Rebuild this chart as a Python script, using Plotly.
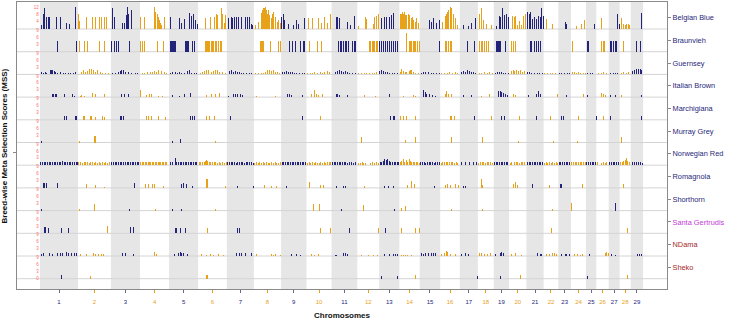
import plotly.graph_objects as go

# ---------------- data ----------------
CHROMOSOMES = list(range(1, 30))
CHR_LEN_MB = [158.3, 137.06, 121.4, 120.66, 121.19, 119.46, 112.6, 113.4, 105.7, 104.3,
              107.3, 91.16, 84.24, 84.65, 85.3, 81.7, 75.16, 66.0, 64.06, 72.04,
              71.6, 61.4, 52.5, 62.7, 42.9, 51.68, 45.4, 46.3, 51.5]

BREEDS = ["Belgian Blue", "Braunvieh", "Guernsey", "Italian Brown", "Marchigiana",
          "Murray Grey", "Norwegian Red", "Romagnola", "Shorthorn", "Santa Gertrudis",
          "NDama", "Sheko"]
BREED_LABEL_COLORS = ["#1f1f7a"] * 9 + ["#c23ad6", "#a52a2a", "#a52a2a"]
ROW_MAX = [12.6] + [9.9] * 11
ROW_TICKS = [[4, 8, 12]] + [[3, 6, 9]] * 10 + [[0, 3, 6, 9]]

# (chromosome, position in Mb, MSS)
BELGIAN_BLUE = [
    (1, 7, 2.2), (1, 12.5, 8.6), (1, 19.4, 11.9), (1, 25, 6.8), (1, 34.7, 6.4), (1, 40, 6.4), (1, 69, 6.4),
    (1, 86, 6.8), (1, 111, 3.5), (1, 122, 2.8), (1, 147, 12.3),
    (2, 1.4, 8.6), (2, 5.6, 4.6), (2, 34.7, 6.8), (2, 59.7, 6.4), (2, 73.6, 6.4), (2, 87.4, 6.4), (2, 98.5, 6.4),
    (2, 109.7, 6.4), (2, 119, 6.4),
    (3, 7.4, 11.9), (3, 12.9, 6.8), (3, 47.6, 3.5), (3, 56, 3.5), (3, 63, 7.7), (3, 67, 12.3), (3, 74, 8.6), (3, 85, 10.5),
    (4, 3.7, 6.4), (4, 20.4, 6.4), (4, 60.6, 12.3), (4, 66, 9.5), (4, 73, 8.6), (4, 77.3, 6.4), (4, 81.5, 5.0),
    (4, 85.6, 3.5), (4, 91, 2.2), (4, 103.7, 6.4),
    (5, 7, 6.8), (5, 41.6, 5.9), (5, 50, 3.1), (5, 64, 5.3), (5, 86, 9.0), (5, 94, 7.2), (5, 103, 8.6), (5, 111, 5.0), (5, 118, 2.8),
    (6, 28.7, 5.9), (6, 49.6, 6.4), (6, 66, 6.8), (6, 74.5, 8.6), (6, 81.5, 7.7), (6, 95.4, 11.9), (6, 101, 8.6),
    (6, 108, 3.1), (6, 114.8, 7.7),
    (7, 6.4, 5.9), (7, 17.5, 6.4), (7, 23, 5.9), (7, 31.4, 6.4), (7, 41, 6.4), (7, 48, 6.4), (7, 62, 6.4), (7, 75.8, 6.8),
    (7, 87.3, 6.8), (7, 92.4, 6.4), (7, 100.8, 2.8), (7, 107.7, 2.2),
    (8, 7.8, 2.2), (8, 18.9, 4.0), (8, 30, 8.6), (8, 33, 9.0), (8, 35.5, 10.5), (8, 39.7, 11.9),
    (8, 43.9, 9.5), (8, 46, 11.5), (8, 48, 12.3), (8, 52.2, 10.5),
    (8, 56.4, 8.6), (8, 60.5, 10.8), (8, 64.7, 7.7), (8, 71.6, 5.9), (8, 77.2, 8.6),
    (8, 82.7, 9.5), (8, 88.3, 6.8), (8, 96.6, 4.0), (8, 103.5, 5.0), (8, 109, 3.1),
    (9, 2.4, 6.8), (9, 9.3, 8.6), (9, 16.2, 5.0), (9, 30, 2.8), (9, 51, 2.2), (9, 64.8, 5.0), (9, 74.5, 2.8), (9, 96.7, 5.9),
    (10, 7.6, 5.9), (10, 24.3, 5.9), (10, 52, 5.9), (10, 63, 3.1), (10, 74, 6.4), (10, 88, 3.1), (10, 98, 8.6),
    (11, 18.7, 6.4), (11, 25.7, 6.8), (11, 32.6, 5.9), (11, 67.3, 4.0), (11, 79.8, 2.2), (11, 93.7, 7.2),
    (12, 7, 1.7), (12, 34.8, 6.4), (12, 40.4, 5.3), (12, 66.8, 2.8), (12, 73.7, 6.8), (12, 82, 7.2), (12, 87.6, 8.3),
    (13, 10.3, 5.9), (13, 21.4, 6.4), (13, 31, 6.8), (13, 42.2, 6.8), (13, 52, 7.7), (13, 58.9, 9.0),
    (14, 5.3, 8.3), (14, 9.4, 8.6), (14, 11.5, 9.5), (14, 13.6, 9.0), (14, 17.8, 8.6),
    (14, 19.8, 9.2), (14, 21.9, 8.3), (14, 26, 7.7), (14, 28.8, 8.0), (14, 31.6, 6.8), (14, 37.2, 8.6),
    (14, 42.8, 7.7), (14, 48.3, 5.9), (14, 53.9, 6.8), (14, 59.4, 5.0), (14, 65, 4.0), (14, 71.9, 5.9), (14, 78.9, 3.1),
    (15, 38.7, 5.0), (15, 49.8, 4.0), (15, 58, 5.9), (15, 70.6, 3.1), (15, 80.4, 5.0),
    (16, 8.9, 4.0), (16, 20, 7.2), (16, 26.9, 8.6), (16, 30.4, 9.5), (16, 33.9, 10.5), (16, 40.8, 11.9),
    (16, 44.2, 12.0), (16, 47.7, 11.4), (16, 54.7, 8.6), (16, 61.6, 5.9), (16, 70, 2.2),
    (17, 14.7, 2.2), (17, 35.5, 1.7), (17, 49.4, 3.1), (17, 63.3, 5.9),
    (18, 6.4, 8.6), (18, 16.1, 11.9), (18, 24.4, 5.0), (18, 36.9, 2.8), (18, 57.7, 2.2),
    (19, 9.6, 1.8), (19, 22, 7.3), (19, 29, 6.4), (19, 36, 11.6), (19, 44.3, 7.9), (19, 54, 8.6), (19, 61, 6.8),
    (20, 13.5, 7.3), (20, 21.8, 6.4), (20, 27.3, 7.3), (20, 35.7, 2.4), (20, 44, 4.6), (20, 52.3, 2.4), (20, 60.7, 7.3),
    (20, 66.2, 8.3),
    (21, 5.3, 9.7), (21, 10.8, 8.3), (21, 16.4, 9.2), (21, 24.7, 5.5), (21, 33, 6.4), (21, 41.4, 5.5), (21, 49.7, 7.3),
    (21, 56.6, 6.4), (21, 63.6, 11.6), (21, 69.1, 7.3),
    (22, 12.8, 5.5), (22, 36.4, 2.8),
    (23, 27.9, 3.7), (23, 34.8, 2.8),
    (24, 24, 1.8), (24, 42, 2.8), (24, 56, 5.0),
    (25, 34.7, 2.6),
    (26, 22.5, 6.0),
    (27, 34.6, 8.6), (27, 44.5, 2.8),
    (28, 8.6, 5.9), (28, 15.5, 2.9), (28, 22.5, 2.2), (28, 29.4, 2.6), (28, 36.4, 2.6), (28, 41.9, 2.2),
    (29, 45.7, 8.8),
]

BRAUNVIEH = [
    (1, 73.6, 4.7), (1, 154, 4.7),
    (2, 5.6, 4.7), (2, 25, 4.7), (2, 40, 4.7), (2, 87.4, 4.7), (2, 110, 4.7),
    (3, 3.2, 4.7), (3, 14.3, 4.7), (3, 24, 4.7), (3, 31, 4.7), (3, 76.7, 4.7),
    (4, 3.7, 4.7), (4, 8, 4.7), (4, 12, 4.7), (4, 17.6, 4.7), (4, 73, 4.7), (4, 96.7, 4.7),
    (5, 4.2, 4.7), (5, 6.2, 4.7), (5, 8.3, 4.7), (5, 10.4, 4.7), (5, 12.5, 4.7), (5, 14.6, 4.7), (5, 16.7, 4.7),
    (5, 18.8, 4.7), (5, 20.8, 4.7), (5, 22.9, 4.7), (5, 25, 4.7), (5, 69.4, 4.7), (5, 71.5, 4.7),
    (5, 73.6, 4.7), (5, 75.6, 4.7), (5, 77.7, 4.7), (5, 79.8, 4.7), (5, 81.9, 4.7), (5, 97, 4.7), (5, 105.5, 4.7),
    (6, 31.5, 4.7), (6, 34.2, 4.7), (6, 37, 4.7), (6, 42.6, 4.7), (6, 45.4, 4.7), (6, 48.2, 4.7), (6, 53.7, 4.7),
    (6, 59.3, 4.7), (6, 62, 4.7), (6, 64.8, 4.7), (6, 70.4, 4.7), (6, 77.3, 4.7), (6, 84.3, 4.7), (6, 91.2, 4.7),
    (6, 98.1, 4.7),
    (8, 25.8, 4.7), (8, 30, 4.7), (8, 35.5, 4.7), (8, 39.7, 4.7), (8, 70.2, 4.7), (8, 102, 4.7), (8, 109, 4.7),
    (9, 32.9, 4.7), (9, 46.8, 4.7), (9, 60.7, 4.7), (9, 82.7, 4.7), (9, 92.6, 4.7), (9, 99.5, 4.7),
    (10, 14.6, 4.7), (10, 46.5, 4.7), (10, 63, 4.7),
    (11, 28.5, 4.7), (11, 35.4, 4.7), (11, 42.3, 4.7), (11, 49.3, 4.7), (11, 56.2, 4.7), (11, 63.2, 4.7),
    (11, 70, 4.7), (11, 86.8, 4.7), (11, 93.7, 4.7), (11, 100.6, 4.7),
    (12, 51.5, 4.7), (12, 54.3, 4.7), (12, 57, 4.7), (12, 62.6, 4.7), (12, 68.2, 4.7), (12, 71, 4.7), (12, 73.7, 4.7),
    (12, 79.3, 4.7), (12, 84.8, 4.7),
    (13, 3.3, 4.7), (13, 11.7, 4.7), (13, 20, 4.7), (13, 28.3, 4.7), (13, 36.6, 4.7), (13, 45, 4.7),
    (13, 53.3, 4.7), (13, 61.6, 4.7), (13, 70, 4.7), (13, 78.3, 4.7),
    (14, 30.3, 8.2), (14, 40, 4.7), (14, 44.2, 4.7), (14, 48.3, 4.7), (14, 56.6, 4.7), (14, 60.8, 4.7), (14, 65, 4.7),
    (14, 73.3, 4.7), (14, 81.6, 4.7),
    (15, 81.8, 4.7),
    (16, 20, 4.7), (16, 26.9, 4.7), (16, 33.9, 4.7), (16, 40.8, 4.7), (16, 47.7, 4.7),
    (17, 32.7, 4.7), (17, 60.5, 4.7),
    (18, 6.4, 4.7), (18, 13.3, 4.7), (18, 20.3, 4.7), (18, 27.2, 4.7), (18, 34.1, 4.7), (18, 43.9, 4.7),
    (19, 12.4, 4.7), (19, 15.1, 4.7), (19, 17.9, 4.7), (19, 20.7, 4.7), (19, 23.5, 4.7), (19, 26.2, 4.7),
    (19, 29, 4.7), (19, 47, 4.7),
    (20, 10.7, 4.7), (20, 19, 4.7), (20, 27.3, 4.7),
    (21, 15, 4.7), (21, 21.9, 4.7), (21, 33, 4.7), (21, 41.4, 4.7), (21, 49.7, 4.7), (21, 58, 4.7),
    (24, 6, 4.7),
    (25, 6.9, 4.7), (25, 9, 4.7), (25, 11.1, 4.7),
    (26, 22.3, 4.7), (26, 29.3, 4.7), (26, 36, 4.7),
    (27, 5.4, 4.7), (27, 12.3, 4.7), (27, 19.2, 4.7), (27, 26.2, 4.7), (27, 33.1, 4.7),
    (28, 15.5, 4.7),
    (29, 24.8, 4.7), (29, 38.7, 4.7),
]

GUERNSEY = [
    (1, 4.2, 0.9), (1, 12.5, 0.6), (1, 20.8, 1.2), (1, 29.1, 0.7), (1, 43, 1.8), (1, 48.6, 2.0), (1, 54.1, 1.8),
    (1, 59.7, 1.5), (1, 65.2, 0.9), (1, 73.6, 0.6), (1, 84.7, 0.9), (1, 95.8, 0.6), (1, 106.9, 0.7), (1, 118, 0.6),
    (1, 129, 0.7), (1, 140, 0.6), (1, 148.5, 0.9),
    (2, 12.5, 1.2), (2, 20.8, 2.0), (2, 29.1, 1.0), (2, 37.5, 1.5), (2, 45.8, 2.2), (2, 54.1, 2.5), (2, 62.5, 2.0),
    (2, 70.8, 1.2), (2, 79.1, 2.0), (2, 93, 1.2), (2, 104, 0.8), (2, 115, 0.8), (2, 126, 0.6),
    (3, 6, 0.8), (3, 17, 0.6), (3, 31, 1.2), (3, 39.3, 1.5), (3, 44.8, 2.0), (3, 53.2, 1.8), (3, 61.5, 1.2),
    (3, 72.6, 1.0), (3, 86.5, 0.7), (3, 100.3, 0.6), (3, 111.5, 0.8),
    (4, 9.3, 0.8), (4, 20.4, 0.7), (4, 31.5, 1.2), (4, 42.6, 1.0), (4, 53.7, 1.2), (4, 62, 1.5), (4, 70.4, 1.0),
    (4, 78.7, 1.8), (4, 89.8, 1.5), (4, 100.9, 1.0), (4, 112, 0.8),
    (5, 4.2, 0.7), (5, 13.9, 0.9), (5, 25, 1.0), (5, 33.3, 0.8), (5, 41.6, 1.2), (5, 52.7, 0.7), (5, 63.8, 0.6),
    (5, 75, 1.5), (5, 83.3, 1.8), (5, 94.4, 0.7), (5, 105.5, 0.8), (5, 113.8, 0.6),
    (6, 7.9, 0.8), (6, 17.6, 1.2), (6, 26, 1.5), (6, 35.7, 2.0), (6, 42.6, 1.8), (6, 53.7, 1.2), (6, 64.8, 1.5),
    (6, 73.2, 2.0), (6, 81.5, 1.8), (6, 89.8, 1.2), (6, 101, 1.0), (6, 112, 0.8),
    (7, 9.2, 1.5), (7, 17.5, 1.8), (7, 25.8, 1.2), (7, 34.1, 1.5), (7, 42.5, 1.2), (7, 50.8, 1.0), (7, 59.1, 0.8),
    (7, 70.2, 0.6), (7, 81.3, 0.7), (7, 92.4, 0.6), (7, 103.5, 0.6),
    (8, 7.8, 0.6), (8, 18.9, 0.8), (8, 30, 0.7), (8, 41, 0.6), (8, 49.4, 1.0), (8, 57.7, 1.8), (8, 66, 1.8),
    (8, 74.4, 1.5), (8, 82.7, 1.8), (8, 91, 1.2), (8, 99.4, 1.0), (8, 107.7, 0.8),
    (9, 5.1, 1.0), (9, 13.5, 1.2), (9, 21.8, 1.5), (9, 30.1, 1.2), (9, 38.4, 1.0), (9, 46.8, 1.2), (9, 55.1, 0.8),
    (9, 66.2, 0.7), (9, 77.3, 0.6), (9, 88.4, 0.7), (9, 99.5, 0.8),
    (10, 4.9, 0.6), (10, 16, 0.7), (10, 27, 0.8), (10, 35.4, 1.0), (10, 46.5, 0.8), (10, 57.6, 1.2), (10, 65.9, 0.8),
    (10, 77, 1.0), (10, 88.1, 1.5), (10, 96.5, 1.2),
    (11, 14.6, 1.2), (11, 22.9, 1.5), (11, 31.2, 1.8), (11, 39.6, 1.5), (11, 47.9, 1.2), (11, 56.2, 1.5),
    (11, 64.5, 1.0), (11, 75.6, 0.8), (11, 86.7, 0.7), (11, 97.9, 0.6),
    (12, 7, 0.6), (12, 18.2, 0.7), (12, 29.3, 0.8), (12, 40.4, 0.7), (12, 51.5, 0.8), (12, 62.6, 0.6), (12, 73.7, 0.7),
    (12, 82, 1.2),
    (13, 3.3, 1.5), (13, 10.3, 1.8), (13, 18.6, 1.5), (13, 26.9, 1.2), (13, 35.3, 1.0), (13, 43.6, 0.8),
    (13, 54.7, 0.7), (13, 65.8, 0.8), (13, 76.9, 0.7),
    (14, 3.9, 1.0), (14, 9.4, 2.2), (14, 15, 1.5), (14, 23.3, 1.2), (14, 31.6, 1.0), (14, 40, 1.5), (14, 45.5, 2.0),
    (14, 51.1, 1.8), (14, 59.4, 1.2), (14, 67.7, 0.8), (14, 78.8, 0.7),
    (15, 5.4, 0.8), (15, 16.5, 1.0), (15, 24.8, 1.2), (15, 36, 1.0), (15, 47, 0.8), (15, 58.2, 0.7), (15, 69.3, 0.8),
    (15, 80.4, 0.6),
    (16, 6.1, 0.7), (16, 17.2, 0.8), (16, 28.3, 0.7), (16, 39.4, 1.0), (16, 50.5, 0.8), (16, 61.6, 1.0), (16, 72.7, 0.7),
    (17, 5, 1.0), (17, 13.3, 1.5), (17, 21.7, 1.2), (17, 30, 1.8), (17, 38.3, 1.5), (17, 46.6, 1.2), (17, 55, 1.0),
    (17, 66, 0.8),
    (18, 5, 0.7), (18, 16.1, 0.8), (18, 27.2, 1.0), (18, 38.3, 0.8), (18, 49.4, 1.0), (18, 60.5, 0.8),
    (19, 5.4, 0.8), (19, 13.7, 1.0), (19, 22, 1.2), (19, 30.4, 1.0), (19, 38.7, 0.8), (19, 49.8, 0.7), (19, 60.9, 0.6),
    (20, 7.9, 1.5), (20, 16.2, 1.8), (20, 21.8, 1.5), (20, 30.1, 1.8), (20, 38.4, 1.5), (20, 46.8, 1.8), (20, 55.1, 1.2),
    (20, 63.4, 1.5),
    (21, 5.3, 1.2), (21, 13.6, 1.0), (21, 21.9, 0.8), (21, 33, 0.7), (21, 44.1, 0.6), (21, 55.2, 0.7), (21, 66.3, 0.6),
    (22, 5.8, 0.6), (22, 16.9, 0.7), (22, 28, 0.6), (22, 39.1, 0.7), (22, 50.2, 0.6),
    (23, 5.7, 0.7), (23, 14, 0.8), (23, 25.1, 0.7), (23, 36.2, 0.6), (23, 44.6, 0.7),
    (24, 6, 1.0), (24, 14.3, 1.2), (24, 22.6, 0.8), (24, 31, 1.0), (24, 39.3, 0.7), (24, 50.4, 0.8), (24, 58.7, 0.7),
    (25, 6.9, 0.8), (25, 18, 0.7), (25, 29.1, 0.6),
    (26, 8.5, 0.7), (26, 19.6, 0.8), (26, 30.7, 1.0), (26, 41.8, 0.8),
    (27, 6.8, 0.8), (27, 17.9, 0.6), (27, 29, 0.7), (27, 37.3, 0.6),
    (28, 5.8, 0.8), (28, 16.9, 1.0), (28, 28, 0.8), (28, 36.4, 1.0),
    (29, 6.8, 1.5), (29, 15.1, 1.8), (29, 23.5, 2.2), (29, 31.8, 2.5), (29, 40, 2.2), (29, 45.7, 1.8),
]

ITALIAN_BROWN = [
    (1, 51.4, 1.5), (1, 56.9, 1.5), (1, 62.5, 1.5), (1, 68, 1.2), (1, 101, 1.2), (1, 134.6, 1.2), (1, 145.7, 0.6),
    (2, 8.3, 0.6), (2, 15.3, 0.8), (2, 26.4, 0.6), (2, 59.7, 1.8), (2, 70.8, 1.5), (2, 109.7, 1.2),
    (3, 44.8, 1.5), (3, 55.9, 1.2), (3, 72.6, 1.5),
    (4, 3.7, 2.9), (4, 27.3, 0.8), (4, 41.2, 1.5), (4, 48, 1.5), (4, 75.9, 0.7), (4, 92.6, 0.7),
    (5, 13.9, 0.8), (5, 41.6, 0.6), (5, 63.8, 1.2), (5, 87.3, 1.8),
    (6, 35.7, 0.8), (6, 53.7, 1.2), (6, 70.4, 1.5), (6, 87, 1.8),
    (7, 6.4, 0.6), (7, 27.2, 1.2), (7, 36.9, 1.5), (7, 45.2, 1.5), (7, 55, 1.5), (7, 64.8, 0.8),
    (8, 11.9, 0.5), (8, 88.3, 0.6),
    (9, 27.3, 1.5), (9, 34.3, 1.2), (9, 44, 0.8), (9, 88.4, 1.0),
    (10, 21.5, 1.5), (10, 32.6, 3.0), (10, 41, 1.2), (10, 49.3, 0.8), (10, 65.9, 1.2),
    (11, 18.7, 1.2), (11, 25.7, 1.2), (11, 34, 1.0), (11, 67.3, 0.8),
    (12, 29.3, 0.8), (12, 76.5, 0.7),
    (13, 45, 1.2),
    (14, 16.4, 0.6), (14, 58, 0.8), (14, 67.7, 0.7),
    (15, 15.1, 2.9), (15, 22, 2.2), (15, 29, 1.5), (15, 38.7, 1.2), (15, 52.6, 0.8), (15, 63.7, 0.6),
    (16, 20, 1.5), (16, 26.9, 2.6), (16, 33.9, 1.5), (16, 47.7, 1.2),
    (17, 14.7, 0.8), (17, 49.4, 0.8),
    (18, 16.1, 0.6), (18, 46.6, 1.5),
    (19, 19.3, 2.5), (19, 26.2, 2.5), (19, 33.2, 2.2), (19, 40.1, 1.8), (19, 47, 1.5), (19, 55.4, 0.8),
    (20, 17.6, 1.2), (20, 27.3, 0.8),
    (21, 8, 0.8), (21, 42.8, 1.5), (21, 49.7, 2.5), (21, 58, 1.2),
    (22, 58.3, 1.5),
    (23, 34.8, 0.8),
    (24, 51.8, 1.2),
    (25, 6.9, 0.8),
    (26, 22.3, 2.0), (26, 29.3, 1.2), (26, 36.2, 0.8),
    (27, 5.4, 0.8), (27, 26.2, 1.0),
    (28, 8.6, 0.8),
    (29, 45.7, 1.0),
]

MARCHIGIANA = [
    (1, 104, 1.8), (1, 109.7, 1.8), (1, 148.5, 1.8), (1, 154, 1.8),
    (2, 22.2, 1.5), (2, 29, 1.5), (2, 50, 1.8), (2, 56.9, 1.5), (2, 73.6, 1.2), (2, 101, 1.5), (2, 112, 1.2),
    (3, 37.9, 1.8), (3, 44.8, 1.8), (3, 51.8, 1.8),
    (4, 27.3, 1.5), (4, 37, 1.5), (4, 48, 1.5), (4, 78.7, 1.5), (4, 106.5, 1.2),
    (5, 87.4, 1.5), (5, 97, 1.5), (5, 105.5, 1.5),
    (6, 35.7, 1.5), (6, 45.4, 1.5), (6, 67.7, 1.5),
    (7, 13.3, 1.5),
    (9, 88.4, 1.5),
    (10, 59, 1.8),
    (13, 49, 1.5), (13, 58.9, 1.5), (13, 65.8, 1.5),
    (14, 2.5, 1.5), (14, 16.4, 1.5), (14, 30.3, 1.5), (14, 65, 1.5),
    (16, 40.8, 1.5), (16, 47.7, 1.5), (16, 58.8, 1.5),
    (17, 60.5, 1.5),
    (18, 57.7, 1.5),
    (19, 30.4, 1.5), (19, 44.3, 1.5),
    (20, 41.2, 1.5),
    (21, 42.8, 1.5),
    (22, 30.8, 1.5),
    (23, 14, 1.5), (23, 21, 1.5),
    (24, 31, 1.5),
    (25, 42, 1.5),
    (26, 29, 1.5),
    (27, 5.4, 1.5),
    (29, 45.7, 1.5),
]

MURRAY_GREY = [
    (1, 4.2, 0.8), (2, 5.6, 0.6), (2, 68, 2.9), (2, 70.8, 2.9), (5, 13.9, 0.6), (5, 45.8, 1.5), (6, 73.3, 0.8),
    (12, 18.2, 2.5), (14, 23.3, 1.2), (14, 65, 2.5), (16, 47.7, 2.2), (18, 19, 2.2), (20, 38.4, 0.8),
    (22, 40.5, 0.6), (24, 28.5, 0.6), (28, 5.8, 2.5),
]

NORWEGIAN_RED = [
    (1, 3, 1.4), (1, 10, 1.5), (1, 17, 1.3), (1, 24, 1.5), (1, 31, 1.4), (1, 38, 1.2), (1, 45, 1.5), (1, 52, 1.4),
    (1, 59, 1.3), (1, 66, 1.5), (1, 73, 1.4), (1, 80, 1.6), (1, 87, 1.4), (1, 94, 1.8), (1, 101, 1.5), (1, 108, 1.4),
    (1, 115, 1.3), (1, 122, 1.5), (1, 129, 1.4), (1, 136, 1.6), (1, 143, 1.4), (1, 150, 1.5), (1, 156, 1.3),
    (2, 4, 1.2), (2, 11, 1.3), (2, 18, 1.1), (2, 25, 1.4), (2, 32, 1.2), (2, 39, 1.3), (2, 46, 1.0), (2, 53, 1.2),
    (2, 60, 1.3), (2, 67, 1.1), (2, 74, 1.2), (2, 81, 1.0), (2, 88, 1.3), (2, 95, 1.1), (2, 102, 1.2), (2, 109, 1.0),
    (2, 116, 1.2), (2, 123, 1.1), (2, 130, 1.3),
    (3, 4, 1.4), (3, 11, 1.3), (3, 18, 1.5), (3, 25, 1.4), (3, 32, 1.2), (3, 39, 1.5), (3, 46, 1.4), (3, 53, 1.3),
    (3, 60, 1.5), (3, 67, 1.4), (3, 74, 1.2), (3, 81, 1.4), (3, 88, 1.5), (3, 95, 1.3), (3, 102, 1.4), (3, 109, 1.5),
    (3, 116, 1.3),
    (4, 3, 1.4), (4, 9, 1.5), (4, 15, 1.4), (4, 21, 1.5), (4, 27, 1.3), (4, 33, 1.5), (4, 39, 1.4), (4, 45, 1.5),
    (4, 51, 1.4), (4, 57, 1.3), (4, 63, 1.5), (4, 69, 1.4), (4, 75, 1.5), (4, 81, 1.4), (4, 87, 1.3), (4, 93, 1.5),
    (4, 99, 1.4), (4, 105, 1.3), (4, 112, 1.2),
    (5, 5, 1.3), (5, 13, 1.4), (5, 25, 3.2), (5, 32, 1.4), (5, 39, 1.3), (5, 46, 1.5), (5, 53, 1.4), (5, 60, 1.2),
    (5, 67, 1.4), (5, 74, 1.3), (5, 81, 1.5), (5, 88, 1.4), (5, 95, 1.3), (5, 102, 1.4), (5, 109, 1.2), (5, 116, 1.3),
    (6, 4, 1.2), (6, 11, 1.3), (6, 18, 1.5), (6, 25, 1.6), (6, 32, 2.0), (6, 36, 2.3), (6, 40, 2.0), (6, 46, 1.5),
    (6, 53, 1.3), (6, 60, 1.2), (6, 67, 1.3), (6, 74, 1.2), (6, 81, 1.1), (6, 88, 1.2), (6, 95, 1.1), (6, 102, 1.2),
    (6, 109, 1.1), (6, 116, 1.2),
    (7, 4, 1.2), (7, 11, 1.3), (7, 18, 1.2), (7, 25, 1.3), (7, 32, 1.2), (7, 39, 1.1), (7, 46, 1.3), (7, 53, 1.2),
    (7, 60, 1.3), (7, 67, 1.2), (7, 74, 1.1), (7, 81, 1.3), (7, 88, 1.2), (7, 95, 1.3), (7, 102, 1.2), (7, 109, 1.1),
    (8, 4, 1.1), (8, 11, 1.2), (8, 18, 1.1), (8, 25, 1.2), (8, 32, 1.0), (8, 39, 1.2), (8, 46, 1.1), (8, 53, 1.2),
    (8, 60, 1.1), (8, 67, 1.0), (8, 74, 1.2), (8, 81, 1.1), (8, 88, 1.2), (8, 95, 1.0), (8, 102, 1.1), (8, 109, 1.2),
    (9, 4, 1.3), (9, 11, 1.2), (9, 18, 1.3), (9, 25, 1.4), (9, 32, 1.2), (9, 39, 1.3), (9, 46, 1.2), (9, 53, 1.3),
    (9, 60, 1.4), (9, 67, 1.2), (9, 74, 1.3), (9, 81, 1.2), (9, 88, 1.3), (9, 95, 1.2), (9, 102, 1.3),
    (10, 4, 1.1), (10, 11, 1.2), (10, 18, 1.0), (10, 25, 1.2), (10, 32, 1.1), (10, 39, 1.2), (10, 46, 1.0),
    (10, 53, 1.1), (10, 60, 1.2), (10, 67, 1.0), (10, 74, 1.2), (10, 81, 1.1), (10, 88, 1.2), (10, 95, 1.3),
    (10, 101, 1.2),
    (11, 4, 1.5), (11, 11, 1.3), (11, 18, 1.4), (11, 25, 1.3), (11, 32, 1.2), (11, 39, 1.3), (11, 46, 1.2),
    (11, 53, 1.3), (11, 60, 1.2), (11, 67, 1.1), (11, 74, 1.3), (11, 82, 1.2), (11, 90, 1.1), (11, 98, 1.2),
    (12, 6, 1.0), (12, 13, 1.1), (12, 20, 1.2), (12, 27, 1.0), (12, 34, 1.1), (12, 55, 1.0), (12, 62, 1.2),
    (12, 70, 1.0), (12, 82, 1.2), (12, 88, 1.1),
    (13, 4, 1.3), (13, 11, 1.5), (13, 18, 2.0), (13, 24, 2.9), (13, 30, 2.2), (13, 36, 2.6), (13, 42, 2.0),
    (13, 48, 1.6), (13, 55, 1.4), (13, 62, 1.3), (13, 69, 1.2), (13, 76, 1.3), (13, 82, 1.2),
    (14, 4, 1.5), (14, 10, 1.8), (14, 16, 2.5), (14, 22, 1.6), (14, 28, 2.2), (14, 34, 1.5), (14, 40, 2.5),
    (14, 46, 1.8), (14, 52, 1.5), (14, 58, 1.3), (14, 64, 1.2), (14, 70, 1.4), (14, 76, 1.2), (14, 82, 1.1),
    (15, 4, 1.2), (15, 11, 1.3), (15, 18, 1.2), (15, 25, 1.1), (15, 32, 1.3), (15, 39, 1.2), (15, 46, 1.3),
    (15, 53, 1.2), (15, 60, 1.1), (15, 67, 1.2), (15, 74, 1.3), (15, 81, 1.2),
    (16, 4, 1.1), (16, 11, 1.2), (16, 18, 1.3), (16, 25, 1.2), (16, 32, 1.4), (16, 39, 1.2), (16, 46, 1.3),
    (16, 53, 1.2), (16, 60, 1.1), (16, 67, 1.2), (16, 74, 1.1),
    (17, 8, 1.2), (17, 22, 1.3), (17, 40, 1.2), (17, 58, 1.4), (17, 70, 1.2),
    (18, 4, 1.1), (18, 11, 1.2), (18, 18, 1.3), (18, 25, 1.2), (18, 32, 1.1), (18, 39, 1.2), (18, 46, 1.3),
    (18, 53, 1.2), (18, 60, 1.1),
    (19, 3, 1.3), (19, 10, 1.4), (19, 17, 1.3), (19, 24, 1.2), (19, 31, 1.4), (19, 38, 1.3), (19, 45, 1.2),
    (19, 52, 1.3), (19, 59, 1.2),
    (20, 4, 1.1), (20, 11, 1.2), (20, 22, 1.2), (20, 29, 1.3), (20, 36, 1.2), (20, 43, 1.1), (20, 50, 1.2),
    (20, 57, 1.3), (20, 64, 1.2),
    (21, 4, 1.3), (21, 11, 1.4), (21, 18, 1.3), (21, 25, 1.4), (21, 32, 1.3), (21, 39, 1.2), (21, 46, 1.4),
    (21, 53, 1.3), (21, 60, 1.2), (21, 67, 1.3),
    (22, 4, 1.1), (22, 11, 1.2), (22, 18, 1.1), (22, 25, 1.2), (22, 32, 1.1), (22, 39, 1.2), (22, 46, 1.1),
    (22, 53, 1.2), (22, 59, 1.1),
    (23, 4, 1.2), (23, 11, 1.3), (23, 18, 1.2), (23, 25, 1.3), (23, 32, 1.2), (23, 39, 1.3), (23, 46, 1.2),
    (24, 4, 1.2), (24, 11, 1.3), (24, 18, 1.4), (24, 25, 1.3), (24, 32, 1.2), (24, 39, 1.3), (24, 46, 1.2),
    (24, 53, 1.3), (24, 60, 1.2),
    (25, 4, 1.3), (25, 11, 1.4), (25, 18, 1.2), (25, 25, 1.3), (25, 32, 1.4), (25, 39, 1.2),
    (26, 5, 1.2), (26, 20, 1.1), (26, 30, 1.2), (26, 37, 1.1), (26, 44, 1.2),
    (27, 4, 1.3), (27, 11, 1.4), (27, 18, 1.3), (27, 25, 1.2), (27, 32, 1.3), (27, 39, 1.2),
    (28, 4, 1.3), (28, 11, 1.5), (28, 18, 1.8), (28, 24, 2.2), (28, 29, 3.0), (28, 34, 2.0), (28, 40, 1.5),
    (29, 6, 1.2), (29, 14, 1.3), (29, 26, 1.2), (29, 34, 1.3), (29, 42, 1.2), (29, 48, 1.1),
]

ROMAGNOLA = [
    (1, 13.9, 2.2), (1, 19.4, 2.2), (1, 26.4, 2.2), (1, 73.6, 2.2),
    (2, 36, 1.5), (2, 70.8, 1.2), (2, 109.7, 0.6),
    (3, 97.6, 2.2),
    (4, 23, 1.8), (4, 37, 1.8), (4, 50.9, 1.8), (4, 62, 1.8), (4, 98, 0.8),
    (5, 52.7, 1.5), (5, 61, 2.2), (5, 70.8, 1.8), (5, 97, 0.8),
    (6, 34.3, 3.7), (6, 38.4, 3.7), (6, 115, 0.8),
    (7, 45.2, 1.0), (7, 110, 1.0),
    (8, 43.9, 1.2), (8, 71.6, 0.8), (8, 95.2, 0.8),
    (9, 23.2, 1.0),
    (10, 14.6, 2.5), (10, 60.4, 1.2), (10, 70, 1.2),
    (11, 21.5, 0.8), (11, 49.3, 1.0), (11, 56.2, 1.0),
    (12, 32, 1.0),
    (13, 24.2, 1.0), (13, 38, 1.0), (13, 58.9, 1.0),
    (14, 34.7, 1.2), (14, 51.1, 2.9), (14, 62.2, 1.5),
    (15, 61.3, 0.8),
    (16, 20, 1.2), (16, 31, 1.5), (16, 40.8, 1.2), (16, 61.6, 1.5), (16, 75.5, 1.2),
    (17, 14.7, 1.0), (17, 24.4, 1.0),
    (18, 16.1, 3.7), (18, 20, 1.2),
    (20, 17.6, 1.5), (20, 27.3, 2.5), (20, 35.7, 1.2),
    (21, 24.8, 1.5),
    (22, 26.6, 1.2),
    (23, 7.1, 1.5), (23, 14, 1.5),
    (24, 47.6, 1.5),
    (28, 15.5, 1.5),
]

SHORTHORN = [
    (1, 4.2, 0.6), (2, 5.6, 0.6), (2, 68, 2.9), (3, 76.7, 0.6), (4, 65, 0.8), (5, 13.9, 0.6), (5, 50, 0.6),
    (6, 73.3, 0.6), (10, 28.5, 2.9), (10, 56.2, 2.9), (11, 39.6, 0.6), (12, 25.1, 2.5), (13, 63, 0.6),
    (14, 9.4, 1.2), (14, 23.3, 2.2), (16, 47.7, 0.6), (18, 19, 0.8), (22, 36.4, 0.6), (24, 1.5, 3.2),
    (27, 26.2, 3.2),
]

SANTA_GERTRUDIS = [
    (1, 16.7, 2.9), (1, 22.2, 2.9), (1, 34.7, 2.2), (1, 90.2, 2.2), (1, 118, 2.2),
    (2, 122, 3.2),
    (3, 79.5, 2.6), (3, 93.3, 2.6),
    (5, 27.8, 2.2), (5, 32, 2.2), (5, 45.8, 2.2), (5, 66.6, 2.2),
    (6, 40, 2.2),
    (7, 45.2, 2.2), (7, 50.8, 2.2),
    (10, 60.4, 2.5), (10, 100.6, 2.5),
    (11, 72.9, 2.5),
    (12, 87.6, 2.5),
    (13, 27, 2.2),
    (14, 9.4, 2.5), (14, 65, 2.5), (14, 81.6, 2.5),
    (22, 33.6, 2.5),
    (28, 33.6, 2.5),
]

NDAMA = [
    (1, 7, 0.8), (1, 13.9, 1.5), (1, 41.6, 1.2), (1, 51.4, 1.0), (1, 70.8, 1.2), (1, 87.4, 1.2), (1, 94.4, 1.5),
    (1, 111, 1.8), (1, 118, 1.5), (1, 131.9, 1.2), (1, 143, 1.5), (1, 152.7, 1.2),
    (2, 9.7, 0.8), (2, 34.7, 1.0), (2, 62.5, 1.5), (2, 70.8, 1.0), (2, 84.7, 0.8), (2, 95.8, 0.8), (2, 105.5, 0.8),
    (3, 47.6, 1.5), (3, 61.5, 1.5), (3, 93.4, 0.8),
    (4, 62, 1.8), (4, 68.9, 0.8),
    (5, 22.2, 0.8), (5, 38.9, 1.2), (5, 45.8, 1.8), (5, 52.7, 1.5), (5, 58.3, 1.2), (5, 77.7, 1.0),
    (6, 14.9, 0.8), (6, 35.7, 0.6), (6, 49.6, 0.8), (6, 63.4, 0.6), (6, 84.3, 0.8), (6, 105, 0.6),
    (7, 41, 1.2), (7, 50.8, 1.5), (7, 62, 1.2), (7, 78.6, 1.5), (7, 100.8, 1.5),
    (8, 11.9, 0.8), (8, 74.4, 0.8), (8, 82.7, 0.6), (8, 91, 0.8), (8, 109, 0.6),
    (9, 44, 0.8), (9, 64.8, 0.8), (9, 82.7, 0.6),
    (10, 21.5, 0.8), (10, 35.4, 0.6), (10, 52, 0.8),
    (11, 14.6, 0.6), (11, 21.5, 0.6), (11, 49.3, 1.5), (11, 56.2, 1.5), (11, 67.3, 0.8),
    (12, 18.2, 0.6), (12, 46, 0.6), (12, 66.8, 0.6), (12, 84.8, 0.6),
    (13, 24.2, 0.8), (13, 45, 1.0), (13, 58.9, 1.0), (13, 68.6, 0.8), (13, 76.9, 1.0),
    (14, 9.4, 0.6), (14, 17.8, 0.6), (14, 26, 0.6), (14, 34.4, 0.6), (14, 51, 0.6),
    (15, 8.2, 1.2), (15, 16.5, 1.0), (15, 24.8, 1.2), (15, 36, 1.2), (15, 47, 1.2), (15, 58.2, 1.5), (15, 66.5, 1.2),
    (16, 6.1, 1.0), (16, 17.2, 1.5), (16, 24.2, 2.0), (16, 31.1, 1.8), (16, 40.8, 1.0), (16, 61.6, 0.8),
    (17, 7.8, 0.8), (17, 21.7, 1.5), (17, 35.5, 1.0),
    (18, 5, 1.2), (18, 16.1, 1.5), (18, 27.2, 1.0), (18, 41, 0.8), (18, 52.2, 1.2),
    (19, 5.4, 0.8), (19, 26.2, 1.2), (19, 33.2, 1.8), (19, 40.1, 1.5),
    (20, 10.7, 1.0), (20, 24.6, 1.2), (20, 52.3, 0.6),
    (21, 47, 1.2), (21, 56.6, 1.0), (21, 63.6, 0.8),
    (22, 12.8, 0.8), (22, 26.6, 0.8), (22, 36.4, 1.2), (22, 44.7, 1.5), (22, 54.4, 0.8),
    (23, 14, 0.8), (23, 27.9, 1.0), (23, 34.8, 0.8), (23, 44.6, 0.8),
    (24, 14.3, 0.8), (24, 28.2, 1.0), (24, 37.9, 0.6), (24, 47.6, 0.8),
    (25, 12.5, 0.8),
    (26, 36.2, 1.2), (26, 43.2, 1.8), (26, 48.7, 1.5),
    (27, 12.3, 0.8), (27, 29, 0.6),
    (29, 29, 0.8), (29, 36, 1.0), (29, 42.9, 0.8),
]

SHEKO = [
    (1, 90.2, 1.5), (2, 50, 1.2), (6, 35.7, 1.8), (6, 40, 1.8), (13, 10.3, 1.2), (13, 75, 1.2), (14, 68, 1.5),
    (17, 72, 1.2), (19, 29, 1.2), (20, 48, 1.5), (25, 8, 1.2), (28, 33, 1.5),
]

BREED_DATA = [BELGIAN_BLUE, BRAUNVIEH, GUERNSEY, ITALIAN_BROWN, MARCHIGIANA, MURRAY_GREY,
              NORWEGIAN_RED, ROMAGNOLA, SHORTHORN, SANTA_GERTRUDIS, NDAMA, SHEKO]

# ---------------- styling ----------------
NAVY = "#23237a"
ORANGE = "#e8a21a"
BAND = "#e6e6e6"
GRID = "#d4d4d4"
FRAME = "#8a8a8a"
TICK_RED = "#ff6a6a"
FONT = "Liberation Sans, Arial, sans-serif"

starts = []
acc = 0.0
for L in CHR_LEN_MB:
    starts.append(acc)
    acc += L
centers = [s + L / 2 for s, L in zip(starts, CHR_LEN_MB)]

n_rows = len(BREEDS)
x_range = [-95.8, 2611.2]
y_range = [-0.454, n_rows - 1 + 1.19]

fig = go.Figure()

shapes = []
for c, s, L in zip(CHROMOSOMES, starts, CHR_LEN_MB):
    if c % 2 == 1:
        shapes.append(dict(type="rect", xref="x", yref="paper", x0=s, x1=s + L, y0=0, y1=1,
                           fillcolor=BAND, line=dict(width=0), layer="below"))
for i in range(n_rows):
    base = n_rows - 1 - i
    shapes.append(dict(type="line", xref="paper", yref="y", x0=0, x1=1, y0=base, y1=base,
                       line=dict(color=GRID, width=1), layer="below"))

for i, (breed, data) in enumerate(zip(BREEDS, BREED_DATA)):
    base = n_rows - 1 - i
    for parity, col in ((1, NAVY), (0, ORANGE)):
        xs, ys = [], []
        for chrom, pos, mss in data:
            if chrom % 2 != parity:
                continue
            gx = starts[chrom - 1] + pos
            xs += [gx, gx, None]
            ys += [base, base + mss / ROW_MAX[i], None]
        if xs:
            fig.add_trace(go.Scatter(x=xs, y=ys, mode="lines", line=dict(color=col, width=1),
                                     hoverinfo="skip", showlegend=False, name=breed))

lx, ly, lt = [], [], []
for i in range(n_rows):
    base = n_rows - 1 - i
    for v in ROW_TICKS[i]:
        lx.append(-5.0)
        ly.append(base + v / ROW_MAX[i])
        lt.append(str(v))
fig.add_trace(go.Scatter(x=lx, y=ly, text=lt, mode="text", textposition="middle left",
                         textfont=dict(size=4.5, color=TICK_RED, family=FONT),
                         hoverinfo="skip", showlegend=False, xaxis="x2", yaxis="y2"))

odd_idx = [k for k, c in enumerate(CHROMOSOMES) if c % 2 == 1]
even_idx = [k for k, c in enumerate(CHROMOSOMES) if c % 2 == 0]

right_text = [f'<span style="color:{col}">{b}</span>' for b, col in zip(BREEDS, BREED_LABEL_COLORS)]
right_vals = [n_rows - 1 - i + 0.5 for i in range(n_rows)]

fig.update_layout(
    width=730, height=322,
    margin=dict(l=17, r=63, t=2, b=33),
    paper_bgcolor="white", plot_bgcolor="white",
    font=dict(family=FONT, color="#222222"),
    shapes=shapes,
    hovermode=False,
    xaxis=dict(range=x_range, showgrid=False, zeroline=False, automargin=False,
               showline=True, mirror=True, linecolor=FRAME, linewidth=1,
               tickmode="array", tickvals=[centers[k] for k in odd_idx],
               ticktext=[str(CHROMOSOMES[k]) for k in odd_idx],
               ticks="outside", ticklen=3, tickcolor="#6a6a8a", tickwidth=1,
               tickfont=dict(size=6, color=NAVY, family=FONT), ticklabelstandoff=4),
    xaxis2=dict(overlaying="x", matches="x", side="bottom", anchor="y", showgrid=False, zeroline=False,
                showline=False, automargin=False, tickmode="array", tickvals=[centers[k] for k in even_idx],
                ticktext=[str(CHROMOSOMES[k]) for k in even_idx],
                ticks="outside", ticklen=3, tickcolor=ORANGE, tickwidth=1,
                tickfont=dict(size=6, color=ORANGE, family=FONT), ticklabelstandoff=4),
    yaxis=dict(range=y_range, showgrid=False, zeroline=False, automargin=False,
               showline=True, mirror=True, linecolor=FRAME, linewidth=1,
               tickmode="array", tickvals=[5.58], ticktext=[""],
               ticks="outside", ticklen=3, tickcolor=FRAME),
    yaxis2=dict(overlaying="y", matches="y", side="right", anchor="x", showgrid=False, zeroline=False,
                showline=False, automargin=False, tickmode="array", tickvals=right_vals, ticktext=right_text,
                ticks="outside", ticklen=3, tickcolor=FRAME,
                tickfont=dict(size=7.4, color=NAVY, family=FONT)),
    annotations=[
        dict(text="<b>Breed-wise Meta Selection Scores (MSS)</b>", xref="paper", yref="paper",
             x=-0.0185, y=0.5, xanchor="center", yanchor="middle", textangle=-90, showarrow=False,
             font=dict(size=8, color="#111111", family=FONT)),
        dict(text="<b>Chromosomes</b>", xref="paper", yref="paper", x=0.5, y=-0.094,
             xanchor="center", yanchor="middle", showarrow=False,
             font=dict(size=8, color="#111111", family=FONT)),
    ],
)

POST = (
    "document.body.style.margin='0';document.body.style.padding='0';"
    "document.querySelectorAll('.scatterlayer path.js-line').forEach(function(p){"
    "p.style.shapeRendering='crispEdges';});"
)
fig.write_html("out.html", config={"displayModeBar": False, "staticPlot": True}, post_script=POST)
